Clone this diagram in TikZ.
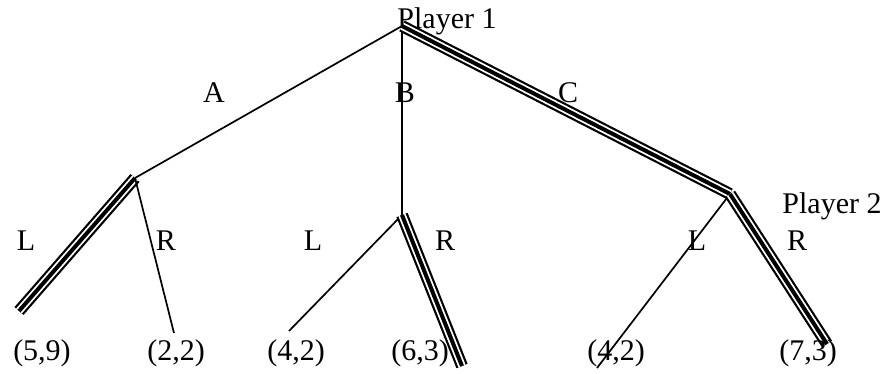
\documentclass[tikz,border=0pt]{standalone}
\usepackage{fontspec}
\setmainfont{Liberation Serif}
\begin{document}
\begin{tikzpicture}[x=1pt,y=-1pt,
  thin line/.style={draw=black,line width=1.7pt},
  triple/.style={draw=black,line width=12pt,
    postaction={draw=white,line width=7.6pt},
    postaction={draw=black,line width=4pt}},
  lbl/.style={inner sep=0pt,anchor=base,font=\fontsize{30}{36}\selectfont}]
\useasboundingbox[fill=white] (0,0) rectangle (886,373);
% decision points
\coordinate (root) at (402,26);
\coordinate (nA) at (135,178);
\coordinate (nB) at (402,215);
\coordinate (nC) at (730,194);
% leaves
\coordinate (lAL) at (19,311);
\coordinate (lAR) at (174,333);
\coordinate (lBL) at (289,331);
\coordinate (lBR) at (462,366);
\coordinate (lCL) at (597,368);
\coordinate (lCR) at (827,344);
% connectors
\draw[thin line] (root) -- (nA);
\draw[thin line] (root) -- (nB);
\draw[triple] (root) -- (nC);
\draw[triple] (nA) -- (lAL);
\draw[thin line] (nA) -- (lAR);
\draw[thin line] (nB) -- (lBL);
\draw[triple] (nB) -- (lBR);
\draw[thin line] (nC) -- (lCL);
\draw[triple] (nC) -- (lCR);
% labels
\node[lbl] (p1) at (447,28) {Player 1};
\node[lbl] (p2) at (832,213) {Player 2};
\node[lbl] (la) at (214,102) {A};
\node[lbl] (lb) at (405,102) {B};
\node[lbl] (lc) at (568,102) {C};
\node[lbl] (aL) at (26,250) {L};
\node[lbl] (aR) at (166,250) {R};
\node[lbl] (bL) at (313,250) {L};
\node[lbl] (bR) at (445,250) {R};
\node[lbl] (cL) at (697,250) {L};
\node[lbl] (cR) at (797,250) {R};
\node[lbl] (pAL) at (42,360) {(5,9)};
\node[lbl] (pAR) at (176,360) {(2,2)};
\node[lbl] (pBL) at (296,360) {(4,2)};
\node[lbl] (pBR) at (420,360) {(6,3)};
\node[lbl] (pCL) at (616,360) {(4,2)};
\node[lbl] (pCR) at (808,360) {(7,3)};
\end{tikzpicture}
\end{document}
